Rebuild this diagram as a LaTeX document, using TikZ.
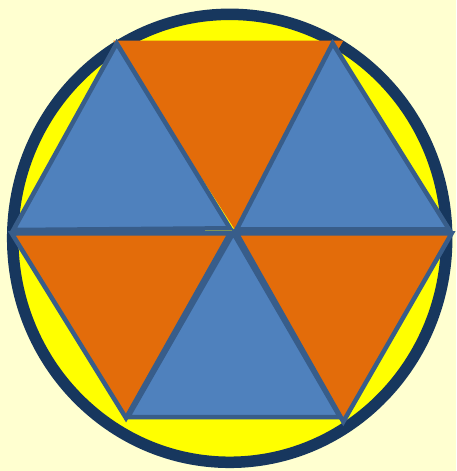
\documentclass[tikz,border=0pt]{standalone}
\definecolor{bgy}{RGB}{255,255,208}
\definecolor{ring}{RGB}{23,55,94}
\definecolor{disc}{RGB}{255,255,0}
\definecolor{bluef}{RGB}{79,129,189}
\definecolor{edge}{RGB}{56,93,138}
\definecolor{orangef}{RGB}{227,108,10}
\begin{document}
\begin{tikzpicture}[x=1pt,y=-1pt,
  tri/.style={draw=edge,line width=4.5pt,line join=miter},
  bluetri/.style={tri,fill=bluef},
  orangetri/.style={tri,fill=orangef}]
\fill[bgy] (0,0) rectangle (456,471);
\useasboundingbox (0,0) rectangle (456,471);
\draw[draw=ring,fill=disc,line width=11.5pt] (229.7,238.3) ellipse [x radius=217, y radius=224];
% top orange triangle (no outline)
\coordinate (otl) at (113.3,40.7);
\coordinate (otr) at (343.3,40.7);
\coordinate (oap) at (234.5,229);
\fill[orangef] (otl) -- (otr) -- (oap) -- cycle;
% lower orange triangles
\draw[orangetri] (11.7,233.3) -- (230,233.3) -- (126,418) -- cycle;
\draw[orangetri] (236.7,233.3) -- (451.7,233.3) -- (343.3,421.7) -- cycle;
% blue triangles
\draw[bluetri] (116.7,43.3) -- (230,228.3) -- (13.3,230) -- cycle;
\draw[bluetri] (332.7,43.3) -- (449,229.3) -- (236.7,229.3) -- cycle;
\draw[bluetri] (233.3,233) -- (340,417) -- (128,417) -- cycle;
\end{tikzpicture}
\end{document}
